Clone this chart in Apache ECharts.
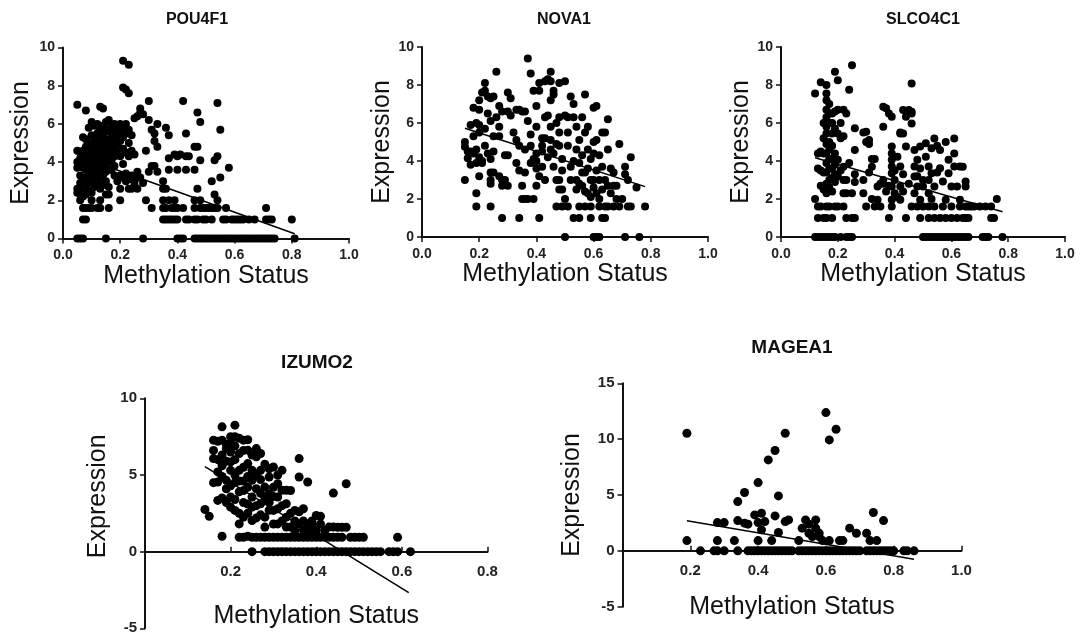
<!DOCTYPE html>
<html>
<head>
<meta charset="utf-8">
<script src="https://cdn.jsdelivr.net/npm/echarts/dist/echarts.min.js"></script>
<style>
  html, body { margin: 0; padding: 0; background: #fff; }
  #chart { width: 1080px; height: 639px; }
</style>
</head>
<body>
<div id="chart"></div>
<script>
// Each row: [methylation, expression, expression, ...] — samples sharing a methylation value.
const pou4f1 = [
  [0.05, 7.0, 4.6, 4.0, 3.7, 2.6, 2.4, 0],
  [0.06, 4.5, 4.2, 3.9, 3.3, 2.9, 2.5, 2.3, 2.0, 0],
  [0.07, 5.3, 4.6, 4.1, 3.7, 3.2, 2.8, 2.2, 1.6, 1.0, 0],
  [0.08, 6.7, 5.2, 4.8, 4.4, 4.0, 3.6, 3.1, 2.7, 2.3, 1.6, 1.0],
  [0.09, 5.8, 5.0, 4.6, 4.2, 3.9, 3.4, 3.0, 2.5, 1.6],
  [0.10, 6.1, 5.4, 4.9, 4.5, 4.1, 3.7, 3.3, 2.9, 2.4, 2.0, 1.6],
  [0.11, 5.9, 5.2, 4.7, 4.3, 3.9, 3.5, 3.1, 2.7],
  [0.12, 6.0, 5.5, 5.0, 4.6, 4.2, 3.8, 3.4, 2.9, 1.6],
  [0.13, 6.9, 5.7, 5.2, 4.8, 4.4, 4.0, 3.6, 3.2, 2.6, 2.0, 1.6],
  [0.14, 6.8, 5.9, 5.4, 5.0, 4.6, 4.2, 3.8, 3.3, 2.8],
  [0.15, 6.1, 5.6, 5.1, 4.7, 4.3, 3.9, 3.5, 3.0, 2.3, 0],
  [0.16, 6.2, 5.7, 5.2, 4.8, 4.4, 4.0, 3.6, 2.7, 2.3, 1.6],
  [0.17, 5.9, 5.5, 5.0, 4.6, 4.1, 3.6],
  [0.18, 6.0, 5.6, 5.2, 4.7, 4.3, 3.8, 3.3],
  [0.19, 5.8, 5.4, 4.9, 4.5, 3.0],
  [0.20, 6.0, 5.6, 5.1, 4.3, 3.3, 2.6, 2.0],
  [0.21, 9.3, 7.9, 5.8, 5.3, 4.7, 3.9, 3.2],
  [0.22, 7.8, 6.0, 5.5, 4.5, 3.4, 3.0],
  [0.23, 9.1, 7.6, 5.7, 5.0, 4.3, 3.1, 2.6],
  [0.24, 5.4, 4.6, 3.3, 2.6],
  [0.25, 6.3, 4.4, 3.0, 2.8],
  [0.26, 6.4, 3.5, 3.2, 2.6],
  [0.27, 6.8, 6.6, 3.2],
  [0.28, 6.5, 2.9, 0],
  [0.29, 4.6, 2.0],
  [0.30, 7.2, 6.2, 3.5],
  [0.31, 5.7, 3.8, 1.6],
  [0.32, 5.5, 5.1, 3.8],
  [0.33, 6.0, 4.8, 3.5],
  [0.35, 2.6, 3.0, 2.0, 1.6, 1.0],
  [0.36, 5.8, 2.6, 1.6, 1.0],
  [0.37, 5.4, 4.2, 3.6, 2.0, 1.0],
  [0.38, 1.6, 1.0],
  [0.39, 4.4, 2.0, 1.6, 1.0],
  [0.40, 4.3, 3.6, 1.6, 1.0, 0],
  [0.41, 4.4, 0],
  [0.42, 7.2, 1.6, 0],
  [0.43, 5.5, 4.3, 3.6, 1.0],
  [0.44, 4.3, 1.0],
  [0.46, 4.8, 3.6, 2.0, 1.6, 1.0, 0],
  [0.47, 6.6, 4.8, 2.6, 1.0, 0],
  [0.48, 6.1, 4.1, 2.0, 1.6, 0],
  [0.49, 1.6, 1.0, 0],
  [0.50, 1.6, 1.0, 0],
  [0.51, 1.6, 0],
  [0.52, 3.0, 1.6, 1.0, 0],
  [0.53, 4.1, 2.3, 1.6, 0],
  [0.54, 7.1, 4.3, 2.0, 1.6, 0],
  [0.55, 5.7, 3.2, 0],
  [0.56, 1.0, 0],
  [0.57, 1.6, 1.0, 0],
  [0.58, 3.7, 0],
  [0.59, 1.0, 0],
  [0.60, 1.0, 0],
  [0.61, 1.0, 0],
  [0.62, 1.0, 0],
  [0.63, 1.0, 0],
  [0.64, 0],
  [0.65, 1.0, 0],
  [0.66, 0],
  [0.67, 1.0, 0],
  [0.68, 0],
  [0.69, 0],
  [0.70, 0],
  [0.71, 1.6, 1.0, 0],
  [0.72, 1.0, 0],
  [0.73, 1.0, 0],
  [0.74, 0],
  [0.80, 1.0],
  [0.81, 0]
];
const pou4f1Fit = [[0.05, 4.33], [0.81, 0.25]];

const nova1 = [
  [0.15, 5.0, 4.75, 3.0],
  [0.16, 4.15, 4.5],
  [0.17, 4.5, 3.8, 5.9],
  [0.18, 6.8, 5.3, 4.4],
  [0.19, 6.0, 4.6, 2.3, 1.6, 3.9],
  [0.20, 7.2, 5.9, 5.5, 4.2, 3.2, 6.7],
  [0.21, 7.6, 3.9, 4.0],
  [0.22, 7.7, 8.1, 4.8, 5.7],
  [0.23, 6.5, 4.4, 7.4],
  [0.24, 7.3, 6.1, 4.1, 3.4, 3.0, 1.6, 2.8],
  [0.25, 7.4, 5.3, 3.4, 4.5],
  [0.26, 6.3, 8.7],
  [0.27, 6.9, 5.8, 5.3, 3.2],
  [0.28, 2.7, 1.0, 3.0, 6.6],
  [0.29, 3.0, 4.3],
  [0.30, 7.6, 6.6, 4.3, 2.7],
  [0.31, 7.3, 6.4],
  [0.32, 5.5],
  [0.33, 6.7, 5.1, 3.9],
  [0.34, 4.8, 3.5, 1.0, 6.7],
  [0.35, 2.7, 6.6, 2.0],
  [0.36, 6.6, 3.4, 2.0, 4.6],
  [0.37, 9.4, 6.1, 2.0],
  [0.38, 5.4, 4.8, 8.6, 3.9],
  [0.39, 4.1, 7.7, 2.0],
  [0.40, 5.8, 6.9, 4.4, 4.0, 3.6, 2.7],
  [0.41, 1.0, 8.1, 7.7, 3.2],
  [0.42, 4.8, 3.7, 4.5, 5.2],
  [0.43, 8.2, 6.3, 5.2, 3.0],
  [0.44, 8.3, 4.2, 6.4],
  [0.45, 8.2, 7.2, 5.8, 5.1, 8.7, 4.6],
  [0.46, 7.5, 4.4, 7.7, 3.7],
  [0.47, 3.0, 1.6, 6.0, 4.9],
  [0.48, 8.1, 6.3, 5.5, 4.8, 3.0, 2.5],
  [0.49, 4.1, 2.5, 1.6, 3.5],
  [0.50, 8.2, 2.0, 0, 6.4],
  [0.51, 6.3, 1.6, 4.8, 5.5],
  [0.52, 7.4, 3.7, 3.0],
  [0.53, 7.0, 6.3, 1.0, 4.0],
  [0.54, 4.6, 3.0, 2.5, 5.8],
  [0.55, 1.6, 1.0, 5.1, 3.9, 2.8],
  [0.56, 6.3, 2.7, 4.3, 3.4],
  [0.57, 7.5, 1.6, 5.5, 3.4, 2.4],
  [0.58, 4.6, 5.8, 2.3, 3.6],
  [0.59, 1.6, 1.0, 4.1, 3.0, 2.1],
  [0.60, 6.8, 3.0, 0, 5.0, 2.6, 4.4],
  [0.61, 6.9, 2.3, 0, 5.1, 3.5],
  [0.62, 4.3, 1.6, 0, 3.0, 2.0],
  [0.63, 3.7, 1.0, 5.5, 2.5],
  [0.64, 5.5, 3.0, 1.6, 1.0],
  [0.65, 6.2, 4.6, 2.7, 1.6],
  [0.66, 2.3, 3.6],
  [0.67, 3.4, 1.6, 2.7],
  [0.68, 2.0, 2.7],
  [0.69, 1.6, 4.9],
  [0.70, 2.0],
  [0.71, 3.7, 0, 3.3],
  [0.72, 3.0, 1.6],
  [0.73, 4.2, 1.6],
  [0.75, 2.6],
  [0.76, 0],
  [0.78, 1.6]
];
const nova1Fit = [[0.15, 5.72], [0.78, 2.65]];

const slco4c1 = [
  [0.12, 7.55, 2.0, 0],
  [0.13, 3.6, 4.4, 1.6, 1.0, 0],
  [0.14, 8.15, 3.5, 4.5, 2.7, 1.6, 0],
  [0.15, 6.0, 5.2, 4.4, 3.4, 2.5, 0, 1.0],
  [0.16, 8.0, 7.55, 7.2, 6.7, 6.3, 5.8, 5.45, 4.9, 4.4, 3.9, 3.4, 2.8, 2.3, 1.6, 1.0, 0],
  [0.17, 7.0, 6.5, 6.0, 5.0, 4.6, 4.1, 3.6, 3.0, 2.6, 1.6, 0],
  [0.18, 6.5, 6.0, 5.45, 4.8, 4.1, 3.6, 3.1, 2.4, 1.0, 0],
  [0.19, 8.7, 6.6, 5.7, 4.4, 3.8, 3.3, 2.9, 1.6, 0],
  [0.20, 8.25, 6.7, 5.45, 4.06, 3.2, 1.6],
  [0.21, 6.0, 5.2, 3.5, 0],
  [0.22, 6.7, 5.3, 3.7, 3.0, 2.3, 1.6],
  [0.23, 6.5, 3.0, 2.3, 1.0, 0],
  [0.24, 7.75, 3.9, 0],
  [0.25, 9.04, 2.3, 1.0, 0],
  [0.26, 5.72, 4.58, 2.9, 3.3, 1.0],
  [0.29, 3.0, 2.3, 5.5],
  [0.30, 5.54, 1.6, 5.0],
  [0.31, 5.1, 4.9, 3.4],
  [0.32, 3.7, 4.1, 2.0],
  [0.33, 4.1, 1.6],
  [0.34, 2.66, 1.96],
  [0.35, 1.6, 2.8],
  [0.36, 3.0, 5.8, 6.85, 2.8],
  [0.37, 6.77, 2.4],
  [0.38, 6.5, 1.0, 2.7],
  [0.39, 6.33, 4.4, 4.06, 3.71, 3.36, 2.66, 1.96, 1.6, 4.76],
  [0.40, 3.0, 3.5, 2.3],
  [0.41, 4.23, 2.1],
  [0.42, 5.45, 3.71, 2.66, 1.96, 5.5],
  [0.43, 6.68, 5.45, 3.3, 2.4],
  [0.44, 4.76, 6.33, 1.0],
  [0.45, 6.68, 2.8],
  [0.46, 8.08, 6.59, 5.98, 1.6, 6.5],
  [0.47, 4.58, 3.18, 3.71, 2.3],
  [0.48, 4.06, 2.66, 1.6, 3.2],
  [0.49, 4.76, 1.0, 1.96, 3.6],
  [0.50, 2.66, 0, 1.6, 3.0],
  [0.51, 4.93, 4.23, 0],
  [0.52, 3.71, 3.0, 2.3, 1.6, 1.0, 0],
  [0.53, 4.67, 3.36, 0, 2.0],
  [0.54, 2.66, 5.19, 1.6, 1.0, 0],
  [0.55, 4.8, 3.4, 0],
  [0.56, 4.58, 3.62, 1.0, 0],
  [0.57, 2.92, 1.6, 0],
  [0.58, 1.96, 1.0, 5.0, 0],
  [0.59, 4.06, 3.36, 0],
  [0.60, 2.66, 1.6, 1.0, 0],
  [0.61, 5.19, 4.4, 3.71, 0],
  [0.62, 2.66, 1.0, 0],
  [0.63, 1.96, 3.71, 1.6, 0],
  [0.64, 3.7, 1.0, 0],
  [0.65, 2.92, 2.66, 1.6, 1.0, 0],
  [0.66, 1.6, 1.0, 0],
  [0.67, 1.6],
  [0.68, 1.6],
  [0.70, 1.6],
  [0.71, 0],
  [0.72, 1.6, 0],
  [0.73, 0],
  [0.74, 1.6, 1.0],
  [0.75, 1.0],
  [0.76, 2.0],
  [0.78, 0]
];
const slco4c1Fit = [[0.12, 4.17], [0.78, 1.33]];

const izumo2 = [
  [0.14, 2.75],
  [0.15, 2.3],
  [0.16, 6.07, 7.27, 4.5, 6.6],
  [0.17, 4.54, 3.34, 7.2, 6.0, 5.2],
  [0.18, 8.14, 7.27, 1.0, 6.3, 3.5, 5.6, 4.9],
  [0.19, 6.72, 4.65, 5.9, 7.0, 3.2, 4.1],
  [0.20, 5.85, 3.56, 7.5, 5.3, 4.3, 6.5, 2.9, 7.0],
  [0.21, 8.25, 7.49, 2.69, 6.0, 5.0, 4.5, 3.4, 6.9],
  [0.22, 6.4, 5.3, 1.81, 3.9, 7.4, 4.6, 2.5, 0.94],
  [0.23, 7.27, 3.99, 2.25, 0.94, 6.6, 4.6, 5.5, 3.2],
  [0.24, 6.62, 5.74, 3.1, 1.0, 7.3, 4.9, 2.5, 4.2],
  [0.25, 4.65, 3.56, 2.9, 2.03, 0, 5.3, 6.3, 0.94],
  [0.26, 6.72, 6.18, 4.1, 0.94, 5.0, 3.0, 2.2],
  [0.27, 5.3, 3.12, 0.94, 4.7, 6.4, 2.4, 3.8],
  [0.28, 4.21, 2.25, 0.94, 0, 5.7, 3.5, 1.6],
  [0.29, 4.87, 3.78, 0, 2.7, 0.94, 5.4, 3.2],
  [0.30, 5.52, 2.69, 0.94, 0, 4.2, 3.6, 1.8],
  [0.31, 1.81, 4.43, 3.56, 0, 5.0, 0.94, 2.8],
  [0.32, 0.94, 5.3, 2.0, 0, 4.0, 3.0],
  [0.33, 3.12, 2.25, 0, 0.94, 4.0, 1.6],
  [0.34, 3.99, 1.6, 0, 0.94, 2.5],
  [0.35, 2.69, 1.38, 0, 0.94, 2.0],
  [0.36, 6.07, 4.87, 1.81, 0, 0.94, 2.6],
  [0.37, 2.8, 0, 0.94, 2.0, 1.4],
  [0.38, 1.81, 4.54, 0, 0.94, 1.4],
  [0.39, 1.38, 0.94, 0, 2.0, 1.8],
  [0.40, 2.36, 0, 0.94, 1.4],
  [0.41, 1.81, 0, 0.94, 2.3],
  [0.42, 1.38, 0.94, 0],
  [0.43, 0, 0.94, 1.6],
  [0.44, 3.82, 0, 0.94, 1.6],
  [0.45, 1.59, 0, 0.94],
  [0.46, 0, 0.94, 1.59],
  [0.47, 4.43, 1.59, 0],
  [0.48, 0.94, 0],
  [0.49, 0, 0.94],
  [0.50, 0.94, 0],
  [0.51, 0.94, 0],
  [0.52, 0],
  [0.53, 0],
  [0.54, 0],
  [0.55, 0],
  [0.57, 0],
  [0.58, 0],
  [0.59, 0.94, 0],
  [0.62, 0]
];
const izumo2Fit = [[0.14, 5.55], [0.616, -2.68]];

const magea1 = [
  [0.19, 10.53, 0.92],
  [0.23, 0],
  [0.27, 0],
  [0.28, 0, 0.92, 2.53],
  [0.30, 2.53, 0],
  [0.33, 0.92],
  [0.34, 0, 4.41, 2.71],
  [0.36, 5.22, 2.48],
  [0.37, 2.39, 0],
  [0.38, 0],
  [0.39, 0, 3.22],
  [0.40, 6.11, 2.53, 0.92, 0],
  [0.41, 1.88, 3.37, 0],
  [0.42, 2.62, 0],
  [0.43, 8.14, 0],
  [0.44, 0.92, 0],
  [0.45, 8.98, 3.13, 0],
  [0.46, 4.92, 1.64, 0],
  [0.47, 0],
  [0.48, 10.53, 2.62, 0],
  [0.49, 2.77, 0],
  [0.50, 0],
  [0.52, 0.92, 0],
  [0.53, 2.03, 0],
  [0.54, 2.77, 0],
  [0.55, 2.39, 1.58, 0],
  [0.56, 1.28, 0],
  [0.57, 2.77, 2.03, 0],
  [0.58, 1.28, 1.58, 0],
  [0.59, 0.92, 0],
  [0.60, 12.38, 0],
  [0.61, 9.93, 0.92, 0],
  [0.62, 0],
  [0.63, 10.89, 0],
  [0.64, 0.92, 0],
  [0.65, 0.92, 0],
  [0.66, 0],
  [0.67, 2.03, 0],
  [0.68, 0],
  [0.69, 1.58, 0],
  [0.70, 0],
  [0.72, 1.58, 0],
  [0.73, 0.92, 0],
  [0.74, 3.43, 0],
  [0.75, 0.92, 0],
  [0.76, 0],
  [0.77, 2.71, 0],
  [0.78, 0],
  [0.79, 0],
  [0.80, 0],
  [0.83, 0],
  [0.84, 0],
  [0.86, 0]
];
const magea1Fit = [[0.19, 2.7], [0.86, -0.75]];

const geneNames = ['POU4F1', 'NOVA1', 'SLCO4C1', 'IZUMO2', 'MAGEA1'];
const xAxisTitle = 'Methylation Status';
const yAxisTitle = 'Expression';

// Turn grouped rows into [x, y] pairs for the scatter series.
function expand(rows) {
  const out = [];
  rows.forEach(r => { for (let i = 1; i < r.length; i++) out.push([r[0], r[i]]); });
  return out;
}

const FONT = '"Liberation Sans", Arial, Helvetica, sans-serif';
const INK = '#111';

// Layout of the five panels (top row sits on zero, bottom row crosses at zero).
const panels = [
  { rows: pou4f1, fit: pou4f1Fit, grid: { left: 63, top: 47.5, width: 286, height: 191 },
    x: { min: 0, max: 1, interval: 0.2 }, y: { min: 0, max: 10, interval: 2 },
    titleX: 197, titleTop: 12, titleSize: 16, tickSize: 14, xGap: 23, yGap: 29, yPad: 0,
    sym: 8, bottomRow: false },
  { rows: nova1, fit: nova1Fit, grid: { left: 422, top: 47, width: 286, height: 190 },
    x: { min: 0, max: 1, interval: 0.2 }, y: { min: 0, max: 10, interval: 2 },
    titleX: 564, titleTop: 12, titleSize: 16, tickSize: 14, xGap: 23, yGap: 24, yPad: 0,
    sym: 8, bottomRow: false },
  { rows: slco4c1, fit: slco4c1Fit, grid: { left: 781, top: 47, width: 284, height: 190 },
    x: { min: 0, max: 1, interval: 0.2 }, y: { min: 0, max: 10, interval: 2 },
    titleX: 923, titleTop: 12, titleSize: 16, tickSize: 14, xGap: 23, yGap: 18, yPad: 0,
    sym: 8, bottomRow: false },
  { rows: izumo2, fit: izumo2Fit, grid: { left: 145, top: 398.3, width: 342.5, height: 230 },
    x: { min: 0, max: 0.8, interval: 0.2 }, y: { min: -5, max: 10, interval: 5 },
    titleX: 317, titleTop: 353, titleSize: 19, tickSize: 15, xGap: 52, yGap: 34, yPad: 34,
    sym: 9, bottomRow: true },
  { rows: magea1, fit: magea1Fit, grid: { left: 622.5, top: 383.3, width: 339, height: 223.4 },
    x: { min: 0, max: 1, interval: 0.2 }, y: { min: -5, max: 15, interval: 5 },
    titleX: 792, titleTop: 338, titleSize: 19, tickSize: 15, xGap: 44, yGap: 38, yPad: 0,
    sym: 9, bottomRow: true }
];

const option = {
  animation: false,
  backgroundColor: '#fff',
  title: [],
  grid: [],
  xAxis: [],
  yAxis: [],
  series: []
};

panels.forEach((p, i) => {
  // Lift the x axis of the bottom row up to the y = 0 level of its grid.
  const zeroLift = p.bottomRow ? -((0 - p.y.min) / (p.y.max - p.y.min)) * p.grid.height : 0;
  option.title.push({
    text: geneNames[i], left: p.titleX, top: p.titleTop, textAlign: 'center', padding: 0,
    textStyle: { fontFamily: FONT, fontWeight: 'bold', fontSize: p.titleSize, color: INK }
  });
  option.grid.push(Object.assign({ containLabel: false, outerBoundsMode: 'none' }, p.grid));
  option.xAxis.push({
    type: 'value', gridIndex: i, min: p.x.min, max: p.x.max, interval: p.x.interval,
    position: 'bottom', offset: zeroLift,
    name: xAxisTitle, nameLocation: 'middle', nameGap: p.xGap,
    nameTextStyle: { fontFamily: FONT, fontSize: 25, color: INK },
    splitLine: { show: false },
    axisLine: { show: true, onZero: false, lineStyle: { color: INK, width: 2 } },
    axisTick: { show: true, inside: p.bottomRow, length: 5, lineStyle: { color: INK, width: 1.5 } },
    axisLabel: {
      showMinLabel: !p.bottomRow, margin: p.bottomRow ? 13 : 10,
      fontFamily: FONT, fontWeight: 'bold', fontSize: p.tickSize, color: '#222',
      formatter: v => v.toFixed(1)
    }
  });
  option.yAxis.push({
    type: 'value', gridIndex: i, min: p.y.min, max: p.y.max, interval: p.y.interval,
    name: yAxisTitle, nameLocation: 'middle', nameGap: p.yGap,
    nameTextStyle: { fontFamily: FONT, fontSize: 25, color: INK, padding: [0, 0, 0, p.yPad] },
    splitLine: { show: false },
    axisLine: { show: true, onZero: false, lineStyle: { color: INK, width: 2 } },
    axisTick: { show: true, inside: false, length: 5, lineStyle: { color: INK, width: 1.5 } },
    axisLabel: {
      margin: 8, fontFamily: FONT, fontWeight: 'bold', fontSize: p.tickSize, color: '#222',
      formatter: v => String(v)
    }
  });
  option.series.push({
    type: 'line', xAxisIndex: i, yAxisIndex: i, data: p.fit, symbol: 'none', z: 2,
    lineStyle: { color: '#000', width: 1.5 }, silent: true
  });
  option.series.push({
    type: 'scatter', xAxisIndex: i, yAxisIndex: i, data: expand(p.rows), z: 3,
    symbol: 'circle', symbolSize: p.sym, itemStyle: { color: '#000', opacity: 1 }, silent: true
  });
});

const chart = echarts.init(document.getElementById('chart'), null, { renderer: 'canvas' });
chart.setOption(option);
</script>
</body>
</html>
